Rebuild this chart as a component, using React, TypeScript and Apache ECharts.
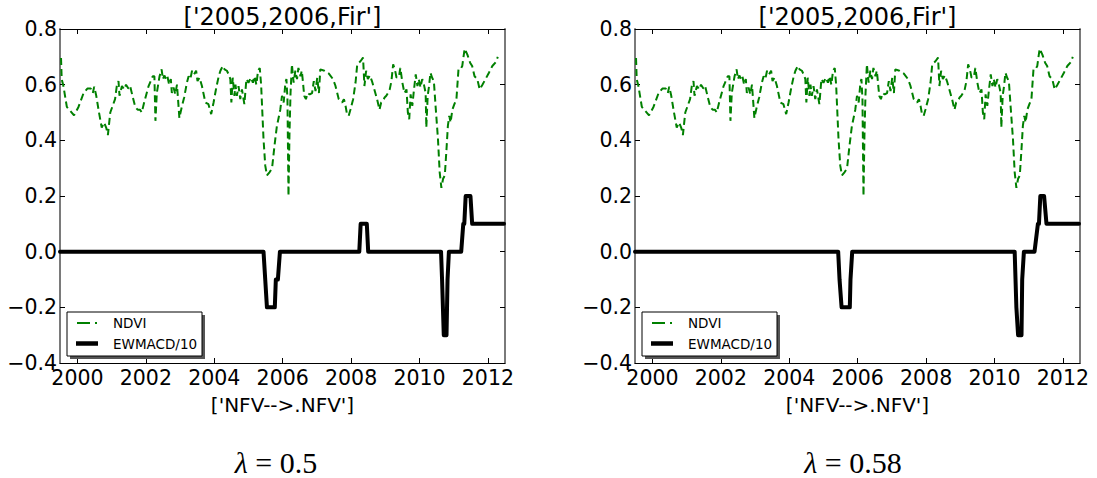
import React, { useEffect, useRef } from "react";
import * as echarts from "echarts";

// NDVI (same in both panels): [decimal year, value]
const ndviPoints: [number, number][] = [
  [1999.52, 0.696], [1999.54, 0.62], [1999.59, 0.595], [1999.69, 0.52], [1999.79, 0.506], [1999.9, 0.49],
  [2000.03, 0.52], [2000.18, 0.57], [2000.29, 0.586], [2000.39, 0.586], [2000.45, 0.57], [2000.49, 0.593],
  [2000.55, 0.56], [2000.63, 0.5], [2000.71, 0.446], [2000.78, 0.464], [2000.84, 0.446], [2000.89, 0.419],
  [2000.96, 0.5], [2001.1, 0.548], [2001.15, 0.595], [2001.2, 0.613], [2001.23, 0.56], [2001.3, 0.595],
  [2001.37, 0.583], [2001.42, 0.6], [2001.49, 0.586], [2001.54, 0.595], [2001.62, 0.554], [2001.69, 0.52],
  [2001.76, 0.51], [2001.83, 0.51], [2001.88, 0.5], [2001.95, 0.536], [2002.08, 0.595], [2002.2, 0.63],
  [2002.25, 0.63], [2002.28, 0.47], [2002.32, 0.57], [2002.4, 0.63], [2002.46, 0.655], [2002.5, 0.62],
  [2002.54, 0.633], [2002.59, 0.62], [2002.63, 0.63], [2002.68, 0.6], [2002.73, 0.62], [2002.76, 0.57],
  [2002.81, 0.59], [2002.86, 0.565], [2002.91, 0.6], [2002.98, 0.48], [2003.05, 0.52], [2003.12, 0.554],
  [2003.2, 0.607], [2003.25, 0.63], [2003.3, 0.62], [2003.35, 0.65], [2003.41, 0.637], [2003.47, 0.65],
  [2003.51, 0.613], [2003.57, 0.625], [2003.64, 0.595], [2003.74, 0.536], [2003.83, 0.53], [2003.91, 0.494],
  [2003.98, 0.536], [2004.06, 0.59], [2004.13, 0.63], [2004.18, 0.65], [2004.25, 0.667], [2004.3, 0.655],
  [2004.37, 0.65], [2004.42, 0.637], [2004.47, 0.62], [2004.5, 0.536], [2004.54, 0.625], [2004.59, 0.56],
  [2004.62, 0.6], [2004.66, 0.56], [2004.71, 0.595], [2004.76, 0.548], [2004.81, 0.583], [2004.88, 0.53],
  [2004.94, 0.62], [2005.0, 0.607], [2005.07, 0.625], [2005.13, 0.607], [2005.18, 0.63], [2005.23, 0.6],
  [2005.28, 0.65], [2005.33, 0.66], [2005.37, 0.6], [2005.44, 0.405], [2005.49, 0.31], [2005.54, 0.274],
  [2005.62, 0.286], [2005.69, 0.3], [2005.76, 0.38], [2005.83, 0.45], [2005.93, 0.51], [2005.98, 0.56],
  [2006.03, 0.536], [2006.08, 0.607], [2006.11, 0.62], [2006.14, 0.548], [2006.17, 0.2], [2006.2, 0.43],
  [2006.23, 0.57], [2006.27, 0.673], [2006.32, 0.607], [2006.37, 0.65], [2006.42, 0.62], [2006.46, 0.66],
  [2006.52, 0.63], [2006.56, 0.65], [2006.59, 0.613], [2006.63, 0.56], [2006.68, 0.548], [2006.73, 0.57],
  [2006.79, 0.565], [2006.86, 0.57], [2006.91, 0.613], [2006.96, 0.577], [2007.01, 0.625], [2007.06, 0.57],
  [2007.1, 0.655], [2007.22, 0.65], [2007.35, 0.64], [2007.47, 0.62], [2007.54, 0.597], [2007.64, 0.548],
  [2007.74, 0.536], [2007.79, 0.548], [2007.83, 0.53], [2007.88, 0.494], [2007.93, 0.488], [2007.98, 0.51],
  [2008.06, 0.548], [2008.13, 0.607], [2008.18, 0.673], [2008.28, 0.685], [2008.35, 0.697], [2008.39, 0.595],
  [2008.44, 0.65], [2008.49, 0.62], [2008.55, 0.633], [2008.61, 0.613], [2008.68, 0.583], [2008.76, 0.548],
  [2008.83, 0.51], [2008.88, 0.536], [2008.93, 0.54], [2008.98, 0.554], [2009.03, 0.56], [2009.08, 0.57],
  [2009.13, 0.583], [2009.18, 0.613], [2009.23, 0.673], [2009.28, 0.655], [2009.33, 0.625], [2009.4, 0.63],
  [2009.44, 0.66], [2009.5, 0.607], [2009.56, 0.57], [2009.62, 0.583], [2009.66, 0.5], [2009.7, 0.476],
  [2009.74, 0.565], [2009.79, 0.524], [2009.84, 0.583], [2009.89, 0.637], [2009.94, 0.595], [2009.98, 0.62],
  [2010.03, 0.59], [2010.08, 0.62], [2010.13, 0.6], [2010.18, 0.57], [2010.2, 0.446], [2010.24, 0.56],
  [2010.28, 0.595], [2010.32, 0.643], [2010.37, 0.625], [2010.42, 0.613], [2010.47, 0.524], [2010.54, 0.405],
  [2010.59, 0.286], [2010.64, 0.229], [2010.69, 0.262], [2010.74, 0.274], [2010.79, 0.369], [2010.83, 0.452],
  [2010.87, 0.488], [2010.91, 0.464], [2010.96, 0.51], [2011.02, 0.53], [2011.08, 0.548], [2011.14, 0.655],
  [2011.2, 0.655], [2011.25, 0.667], [2011.32, 0.729], [2011.4, 0.708], [2011.48, 0.679], [2011.54, 0.667],
  [2011.61, 0.63], [2011.69, 0.62], [2011.76, 0.583], [2011.84, 0.6], [2011.93, 0.62], [2012.03, 0.643],
  [2012.13, 0.667], [2012.23, 0.681], [2012.29, 0.7],
];

// EWMACD/10, lambda = 0.5 (left panel)
const ewmacdLeftYears = [1999.49, 2005.44, 2005.49, 2005.54, 2005.77, 2005.8, 2005.86, 2005.92, 2008.24, 2008.28, 2008.46, 2008.5, 2010.63, 2010.66, 2010.71, 2010.79, 2010.82, 2010.86, 2011.22, 2011.28, 2011.31, 2011.35, 2011.49, 2011.54, 2012.47];
const ewmacdLeftValues = [0, 0, -0.1, -0.2, -0.2, -0.1, -0.1, 0, 0, 0.1, 0.1, 0, 0, -0.1, -0.3, -0.3, -0.1, 0, 0, 0.1, 0.1, 0.2, 0.2, 0.1, 0.1];

// EWMACD/10, lambda = 0.58 (right panel)
const ewmacdRightYears = [1999.49, 2005.43, 2005.47, 2005.53, 2005.77, 2005.79, 2005.84, 2010.59, 2010.64, 2010.69, 2010.79, 2010.81, 2010.86, 2011.17, 2011.27, 2011.3, 2011.34, 2011.45, 2011.52, 2012.47];
const ewmacdRightValues = [0, 0, -0.1, -0.2, -0.2, -0.1, 0, 0, -0.2, -0.3, -0.3, -0.1, 0, 0, 0.1, 0.1, 0.2, 0.2, 0.1, 0.1];

const xTickYears = [2000, 2002, 2004, 2006, 2008, 2010, 2012];
const xMin = 1999.49;
const xMax = 2012.5;
const yMin = -0.4;
const yMax = 0.8;
const yStep = 0.2;
const titleText = "['2005,2006,Fir']";
const xLabelText = "['NFV-->.NFV']";
const legendNames = ["NDVI", "EWMACD/10"];
const lambdaLabels = ["0.5", "0.58"];

const SANS = "DejaVu Sans";

export default function App() {
  const ref = useRef<HTMLDivElement>(null);
  useEffect(() => {
    const chart = echarts.init(ref.current!, null, { renderer: "svg" });
    const panels = [
      { left: 60, ew: ewmacdLeftYears.map((y, i) => [y, ewmacdLeftValues[i]]), lambda: lambdaLabels[0], capX: 276 },
      { left: 635, ew: ewmacdRightYears.map((y, i) => [y, ewmacdRightValues[i]]), lambda: lambdaLabels[1], capX: 853 },
    ];
    const W = 445, TOP = 29, H = 334;
    const grid: any[] = [];
    const xAxis: any[] = [];
    const yAxis: any[] = [];
    const series: any[] = [];
    const graphic: any[] = [];
    const fmtY = (v: number) => (v < -1e-9 ? "\u2212" : "") + Math.abs(v).toFixed(1);

    panels.forEach((p, i) => {
      grid.push({ left: p.left, top: TOP, width: W, height: H, containLabel: false });
      xAxis.push({
        type: "value", gridIndex: i, position: "bottom", min: xMin, max: xMax,
        axisLine: { show: true, onZero: false, lineStyle: { color: "#000", width: 1 } },
        axisTick: { show: true, inside: true, length: 5, customValues: xTickYears, lineStyle: { color: "#000" } },
        axisLabel: { show: true, customValues: xTickYears, formatter: (v: number) => String(Math.round(v)), fontSize: 20.5, color: "#000", fontFamily: SANS, margin: 4 },
        splitLine: { show: false },
        name: xLabelText, nameLocation: "middle", nameGap: 32,
        nameTextStyle: { fontSize: 20, color: "#000", fontFamily: SANS, verticalAlign: "top" },
      });
      xAxis.push({
        type: "value", gridIndex: i, position: "top", min: xMin, max: xMax,
        axisLine: { show: true, onZero: false, lineStyle: { color: "#000", width: 1 } },
        axisTick: { show: true, inside: true, length: 5, customValues: xTickYears, lineStyle: { color: "#000" } },
        axisLabel: { show: false }, splitLine: { show: false },
      });
      yAxis.push({
        type: "value", gridIndex: i, position: "left", min: yMin, max: yMax, interval: yStep,
        axisLine: { show: true, onZero: false, lineStyle: { color: "#7a7a7a", width: 2 } },
        axisTick: { show: true, inside: true, length: 5, lineStyle: { color: "#000" } },
        axisLabel: { show: true, formatter: fmtY, fontSize: 20.5, color: "#000", fontFamily: SANS, margin: 3 },
        splitLine: { show: false },
      });
      yAxis.push({
        type: "value", gridIndex: i, position: "right", min: yMin, max: yMax, interval: yStep,
        axisLine: { show: true, onZero: false, lineStyle: { color: "#7a7a7a", width: 2 } },
        axisTick: { show: true, inside: true, length: 5, lineStyle: { color: "#000" } },
        axisLabel: { show: false }, splitLine: { show: false },
      });
      series.push({
        type: "line", name: legendNames[0], xAxisIndex: i * 2, yAxisIndex: i * 2,
        data: ndviPoints, showSymbol: false, symbol: "none",
        lineStyle: { color: "#008000", width: 2, type: [7, 4] }, z: 2,
      });
      series.push({
        type: "line", name: legendNames[1], xAxisIndex: i * 2, yAxisIndex: i * 2,
        data: p.ew, showSymbol: false, symbol: "none",
        lineStyle: { color: "#000", width: 4, join: "round", cap: "round" }, z: 3,
      });

      const cx = p.left + W / 2;
      graphic.push({
        type: "text", x: cx, y: 17, z: 10,
        style: { text: titleText, fontSize: 24, fontFamily: SANS, fill: "#000", textAlign: "center", textVerticalAlign: "middle" },
      });
      const bx = p.left + 7, by = 312;
      graphic.push({ type: "rect", shape: { x: bx + 3, y: by + 3, width: 135, height: 44 }, style: { fill: "#555" }, z: 20 });
      graphic.push({ type: "rect", shape: { x: bx, y: by, width: 135, height: 44 }, style: { fill: "#fff", stroke: "#000", lineWidth: 1 }, z: 21 });
      graphic.push({ type: "line", shape: { x1: bx + 10, y1: by + 11, x2: bx + 30, y2: by + 11 }, style: { stroke: "#008000", lineWidth: 2, lineDash: [13, 5] }, z: 22 });
      graphic.push({ type: "line", shape: { x1: bx + 9, y1: by + 31.5, x2: bx + 31, y2: by + 31.5 }, style: { stroke: "#000", lineWidth: 4.5 }, z: 22 });
      graphic.push({ type: "text", x: bx + 46, y: by + 11, z: 22, style: { text: legendNames[0], fontSize: 13.5, fontFamily: SANS, fill: "#000", textVerticalAlign: "middle" } });
      graphic.push({ type: "text", x: bx + 46, y: by + 31.5, z: 22, style: { text: legendNames[1], fontSize: 13.5, fontFamily: SANS, fill: "#000", textVerticalAlign: "middle" } });

      graphic.push({
        type: "text", x: p.capX, y: 462, z: 10,
        style: {
          text: "{i|\u03bb} = " + p.lambda,
          fontSize: 30, fontFamily: "Liberation Serif", fill: "#000",
          textAlign: "center", textVerticalAlign: "middle",
          rich: { i: { fontStyle: "italic", fontSize: 30, fontFamily: "Liberation Serif", fill: "#000" } },
        },
      });
    });

    chart.setOption({
      animation: false,
      backgroundColor: "#fff",
      grid, xAxis, yAxis, series, graphic,
    });
    return () => chart.dispose();
  }, []);
  return <div ref={ref} style={{ position: "absolute", left: 0, top: 0, width: 1097, height: 478 }} />;
}
